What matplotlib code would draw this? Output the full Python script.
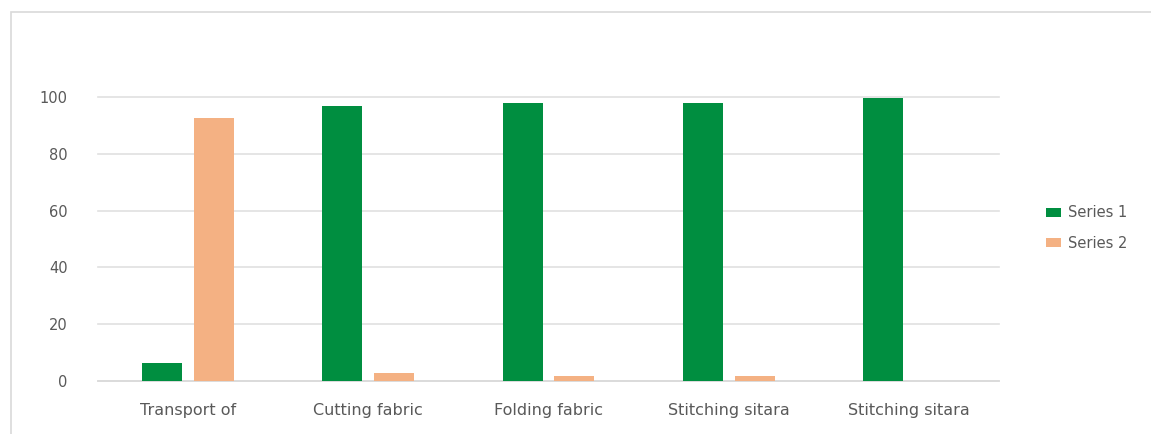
import matplotlib
matplotlib.use("Agg")
import matplotlib.pyplot as plt
import numpy as np
from matplotlib.patches import Rectangle

categories = ["Transport of", "Cutting fabric", "Folding fabric", "Stitching sitara", "Stitching sitara"]
series1 = [6.4, 96.8, 97.9, 97.9, 99.8]
series2 = [92.7, 2.7, 1.8, 1.8, 0]
series_names = ["Series 1", "Series 2"]
yticks = [0, 20, 40, 60, 80, 100]

W, H = 1151, 434
fig = plt.figure(figsize=(W/100, H/100), dpi=100)
fig.patch.set_facecolor("white")

# outer chart border
fig.patches.append(Rectangle((10.5/W, -0.1), 1.2, (H-12.5)/H + 0.1, transform=fig.transFigure,
                             fill=False, edgecolor="#d9d9d9", linewidth=1.2))

left, right = 98/W, 999/W
bottom, top = (H-381)/H, (H-97)/H
ax = fig.add_axes([left, bottom, right-left, top-bottom])

x = np.arange(len(categories))
w = 0.222
off = 0.144
green = "#008E40"
orange = "#F4B183"
ax.bar(x - off, series1, w, color=green, label=series_names[0], zorder=3)
ax.bar(x + off, series2, w, color=orange, label=series_names[1], zorder=3)

ax.set_xlim(-0.5, len(categories) - 0.5)
ax.set_ylim(0, 100)
ax.set_yticks(yticks)
ax.yaxis.grid(True, color="#e0e0e0", linewidth=1.2, zorder=0)
ax.set_axisbelow(True)
for line in ax.get_ygridlines():
    line.set_clip_on(False)
for s in ["top", "right", "left"]:
    ax.spines[s].set_visible(False)
ax.spines["bottom"].set_color("#d9d9d9")
ax.spines["bottom"].set_linewidth(1.2)
ax.tick_params(axis="both", length=0, labelcolor="#595959")
ax.tick_params(axis="y", pad=22, labelsize=10.5)
ax.tick_params(axis="x", pad=16, labelsize=11.5)
ax.set_xticks(x)
ax.set_xticklabels(categories)

leg = fig.legend(loc="center left", bbox_to_anchor=(1033/W, (H-228)/H), frameon=False,
                 fontsize=10.5, handlelength=1.0, handleheight=0.6, labelspacing=1.05,
                 handletextpad=0.5)
for t in leg.get_texts():
    t.set_color("#595959")

fig.savefig("out.png", dpi=100, facecolor="white")
